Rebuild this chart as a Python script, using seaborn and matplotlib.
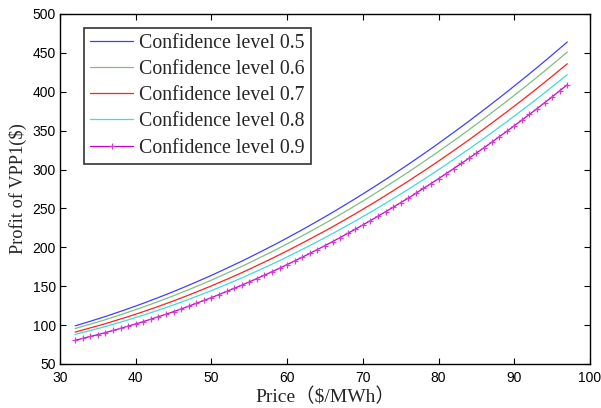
import numpy as np
import pandas as pd
import seaborn as sns
import matplotlib.pyplot as plt

# Price axis (one point per $/MWh)
price = list(range(32, 98))

conf_05 = [99.0, 101.9, 104.9, 107.9, 111.0, 114.3, 117.6, 121.0, 124.5, 128.0,
           131.7, 135.4, 139.2, 143.1, 147.1, 151.2, 155.4, 159.6, 163.9, 168.4,
           172.9, 177.5, 182.1, 186.9, 191.8, 196.7, 201.7, 206.8, 212.0, 217.3,
           222.6, 228.1, 233.6, 239.2, 244.9, 250.7, 256.6, 262.5, 268.6, 274.7,
           280.9, 287.2, 293.6, 300.1, 306.6, 313.3, 320.0, 326.8, 333.7, 340.7,
           347.8, 354.9, 362.1, 369.5, 376.9, 384.4, 392.0, 399.6, 407.4, 415.2,
           423.1, 431.1, 439.2, 447.4, 455.7, 464.0]
conf_06 = [95.5, 98.3, 101.2, 104.0, 106.9, 110.1, 113.2, 116.5, 119.8, 123.2,
           126.7, 130.3, 134.0, 137.7, 141.6, 145.5, 149.6, 153.6, 157.8, 162.1,
           166.5, 170.9, 175.4, 180.0, 184.8, 189.6, 194.4, 199.4, 204.4, 209.6,
           214.7, 220.1, 225.4, 230.9, 236.4, 242.1, 247.8, 253.6, 259.5, 265.5,
           271.6, 277.7, 284.0, 290.3, 296.7, 303.2, 309.8, 316.4, 323.2, 330.1,
           337.0, 344.0, 351.0, 358.3, 365.5, 372.9, 380.3, 387.8, 395.4, 403.1,
           410.8, 418.7, 426.6, 434.7, 442.9, 451.0]
conf_07 = [91.0, 93.6, 96.3, 99.0, 101.8, 104.8, 107.8, 110.8, 114.0, 117.2,
           120.6, 124.0, 127.5, 131.1, 134.8, 138.6, 142.5, 146.4, 150.4, 154.6,
           158.7, 163.0, 167.3, 171.8, 176.4, 181.0, 185.7, 190.5, 195.4, 200.4,
           205.4, 210.6, 215.8, 221.0, 226.4, 231.9, 237.5, 243.1, 248.9, 254.7,
           260.6, 266.6, 272.7, 278.9, 285.1, 291.5, 297.8, 304.3, 310.9, 317.6,
           324.4, 331.2, 338.1, 345.2, 352.3, 359.5, 366.8, 374.1, 381.6, 389.0,
           396.6, 404.3, 412.1, 420.0, 428.0, 436.0]
conf_08 = [88.0, 90.4, 92.9, 95.5, 98.1, 100.9, 103.7, 106.7, 109.7, 112.7,
           115.9, 119.2, 122.5, 125.9, 129.4, 133.0, 136.8, 140.5, 144.3, 148.3,
           152.4, 156.5, 160.6, 165.0, 169.4, 173.8, 178.3, 182.9, 187.6, 192.5,
           197.3, 202.3, 207.3, 212.5, 217.7, 223.0, 228.4, 233.8, 239.5, 245.1,
           250.8, 256.6, 262.6, 268.6, 274.6, 280.8, 287.1, 293.4, 299.8, 306.3,
           313.0, 319.6, 326.3, 333.2, 340.1, 347.2, 354.3, 361.4, 368.7, 376.1,
           383.5, 391.0, 398.6, 406.4, 414.2, 422.0]
conf_09 = [80.5, 82.8, 85.3, 87.7, 90.3, 93.0, 95.7, 98.6, 101.5, 104.4,
           107.6, 110.7, 113.9, 117.3, 120.7, 124.3, 128.0, 131.6, 135.3, 139.2,
           143.2, 147.2, 151.2, 155.5, 159.8, 164.2, 168.6, 173.1, 177.8, 182.5,
           187.3, 192.2, 197.1, 202.2, 207.3, 212.5, 217.9, 223.2, 228.8, 234.3,
           240.0, 245.7, 251.5, 257.4, 263.3, 269.5, 275.7, 281.9, 288.3, 294.7,
           301.2, 307.8, 314.4, 321.2, 328.1, 335.0, 342.1, 349.1, 356.3, 363.6,
           370.9, 378.3, 385.9, 393.5, 401.3, 409.0]

labels = ["Confidence level 0.5", "Confidence level 0.6", "Confidence level 0.7",
          "Confidence level 0.8", "Confidence level 0.9"]
colors = ["#4040ff", "#7fbf7f", "#ff2020", "#40dada", "#cc00cc"]

sns.set_theme(style="white")
plt.rcParams['font.family'] = ['Liberation Sans', 'DejaVu Sans']
serif = ['Liberation Serif', 'Noto Sans CJK SC']

fig = plt.figure(figsize=(6.01, 4.08), dpi=100)
ax = fig.add_axes([0.0998, 0.108, 0.8819, 0.8577])

series = [conf_05, conf_06, conf_07, conf_08, conf_09]
for vals, lab, col in zip(series, labels, colors):
    if lab.endswith("0.9"):
        sns.lineplot(x=price, y=vals, ax=ax, color=col, label=lab, linewidth=0.9,
                     marker="+", markersize=5, markeredgewidth=0.9, markeredgecolor="#d040d0")
    else:
        sns.lineplot(x=price, y=vals, ax=ax, color=col, label=lab, linewidth=0.9)

ax.set_xlim(30, 100)
ax.set_ylim(50, 500)
ax.set_xticks(range(30, 101, 10))
ax.set_yticks(range(50, 501, 50))
ax.tick_params(direction="in", length=4, width=0.8, labelsize=10, colors="black",
               top=True, right=True, bottom=True, left=True)
ax.tick_params(axis="x", pad=5)
ax.tick_params(axis="y", pad=3)
for s in ax.spines.values():
    s.set_color("black")
    s.set_linewidth(1.0)

ax.set_xlabel("Price（$/MWh）", fontsize=14, family=serif, labelpad=2)
ax.set_ylabel("Profit of VPP1($)", fontsize=13.2, family=serif, labelpad=4)

leg = ax.legend(loc="upper left", bbox_to_anchor=(0.045, 0.96), frameon=True, fancybox=False,
                prop={'family': serif, 'size': 14.3}, handlelength=2.2, handletextpad=0.3,
                labelspacing=0.36, borderpad=0.3, borderaxespad=0)
leg.get_frame().set_edgecolor("black")
leg.get_frame().set_linewidth(1.2)

fig.savefig("out.png", dpi=100)
